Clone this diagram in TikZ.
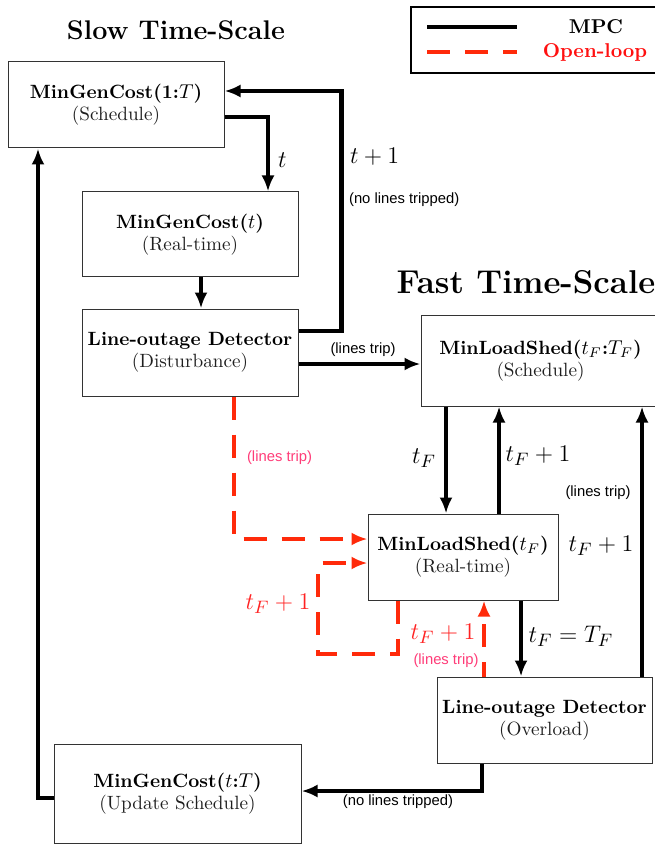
\documentclass[tikz,border=0pt]{standalone}
\usepackage{fontspec}
\usetikzlibrary{arrows.meta,calc}
\newfontfamily\lblfont{Liberation Sans}
\definecolor{opred}{RGB}{255,42,10}
\definecolor{trippink}{RGB}{255,60,120}
\definecolor{mathred}{RGB}{255,34,34}
\definecolor{legred}{RGB}{255,16,16}
\begin{document}
\begin{tikzpicture}[x=0.5pt,y=-0.5pt,
  blk/.style={draw=black!80, line width=0.5pt, align=center, inner sep=0pt,
    font=\fontsize{9.6}{12}\selectfont},
  mpc/.style={line width=2.2pt, -{Latex[length=8pt,width=6.5pt]}},
  mpcline/.style={line width=2.2pt},
  olp/.style={line width=2pt, opred, dash pattern=on 11.5pt off 7.5pt, -{Latex[length=8pt,width=6.5pt]}},
  olpline/.style={line width=2pt, opred, dash pattern=on 11.5pt off 7.5pt},
  lbl/.style={font=\lblfont\fontsize{7.4}{9}\selectfont},
  mlbl/.style={font=\fontsize{12.5}{15}\selectfont},
  ttl/.style={font=\fontsize{13.5}{16}\selectfont\bfseries}]
\useasboundingbox (0,0) rectangle (654,844);

% titles
\node[ttl] (slow) at (176,30) {Slow Time-Scale};
\node[ttl, font=\fontsize{16.5}{19}\selectfont\bfseries] (fast) at (526,282) {Fast Time-Scale};

% legend
\draw[line width=1.2pt] (411,7) rectangle (662,73);
\coordinate (l1a) at (427,27); \coordinate (l1b) at (517,27);
\coordinate (l2a) at (427,52); \coordinate (l2b) at (517,52);
\draw[mpcline] (l1a) -- (l1b);
\draw[olpline] (l2a) -- (l2b);
\node[font=\bfseries] (legmpc) at (596,27) {MPC};
\node[font=\bfseries, text=legred] (legol) at (595,52) {Open-loop};

% blocks
\node[blk, minimum width=108pt, minimum height=43pt] (A) at (116,105)
  {\textbf{MinGenCost(1:$T$)}\\[-1pt] {\color{black!88}(Schedule)}};
\node[blk, minimum width=108pt, minimum height=42.5pt] (B) at (190,234.5)
  {\textbf{MinGenCost($t$)}\\[-1pt] {\color{black!88}(Real-time)}};
\node[blk, minimum width=108pt, minimum height=43.5pt] (C) at (190,352.5)
  {\textbf{Line-outage Detector}\\[-1pt] {\color{black!88}(Disturbance)}};
\node[blk, minimum width=119.5pt, minimum height=45.5pt] (D) at (540.5,360.5)
  {\textbf{MinLoadShed($t_F$:$T_F$)}\\[-1pt] {\color{black!88}(Schedule)}};
\node[blk, minimum width=95pt, minimum height=43pt] (E) at (463,557)
  {\textbf{MinLoadShed($t_F$)}\\[-1pt] {\color{black!88}(Real-time)}};
\node[blk, minimum width=107.5pt, minimum height=43pt] (F) at (544.5,720)
  {\textbf{Line-outage Detector}\\[-1pt] {\color{black!88}(Overload)}};
\node[blk, minimum width=123.5pt, minimum height=49.5pt] (G) at (177.5,793.5)
  {\textbf{MinGenCost($t$:$T$)}\\[-1pt] {\color{black!88}(Update Schedule)}};

% slow loop
\draw[mpc] ($(A.east)+(0,12)$) -| ($(B.north)+(78,0)$);
\node[mlbl, anchor=west] (lt) at (271,160) {$t$};
\draw[mpc] ($(C.east)+(0,-21.5)$) -- ++(43,0) |- ($(A.east)+(0,-14)$);
\node[mlbl, anchor=west] (ltp) at (343,157) {$t+1$};
\node[lbl, anchor=west] (lnlt1) at (342,200) {(no lines tripped)};
\draw[mpc] ($(B.south)+(11,0)$) -- ($(C.north)+(11,0)$);
\draw[mpc] ($(C.east)+(0,11.5)$) coordinate (c4) -- (c4 -| D.west);
\node[lbl] (llt1) at (363,350) {(lines trip)};

% open-loop paths
\draw[olp] ($(C.south)+(44,0)$) |- ($(E.west)+(0,-18)$);
\node[lbl, text=trippink, anchor=west] (llt2) at (240,458) {(lines trip)};
\draw[olp] ($(E.south)+(-65,0)$) -- ++(0,53) -- ++(-80,0) |- ($(E.west)+(0,6)$);
\node[mlbl, text=mathred] (lr1) at (278,604) {$t_F+1$};
\draw[olp, dash phase=4pt] ($(F.north)+(-60.5,0)$) coordinate (f7) -- (f7 |- E.south);
\node[mlbl, text=mathred] (lr2) at (443,634) {$t_F+1$};
\node[lbl, text=trippink] (llt3) at (446,661) {(lines trip)};

% fast loop
\draw[mpc] ($(D.south)+(-94.5,0)$) coordinate (d8) -- (d8 |- E.north);
\node[mlbl] (ltf) at (424,458) {$t_F$};
\draw[mpc] ($(E.north)+(36,0)$) coordinate (e9) -- (e9 |- D.south);
\node[mlbl] (ltf1) at (538,456) {$t_F+1$};
\draw[mpc] ($(E.south)+(58,0)$) coordinate (e10) -- (e10 |- F.north);
\node[mlbl] (ltfT) at (571,636) {$t_F=T_F$};
\draw[mpc] ($(F.north)+(97.5,0)$) coordinate (f11) -- (f11 |- D.south);
\node[lbl] (llt4) at (598,493) {(lines trip)};
\node[mlbl] (ltf2) at (601,546) {$t_F+1$};

% back to the slow schedule
\draw[mpc] ($(F.south)+(-62.5,0)$) |- ($(G.east)+(0,-2.5)$);
\node[lbl] (lnlt2) at (398,802) {(no lines tripped)};
\draw[mpc] ($(G.west)+(0,4.5)$) -| ($(A.south)+(-78,0)$);
\end{tikzpicture}
\end{document}
